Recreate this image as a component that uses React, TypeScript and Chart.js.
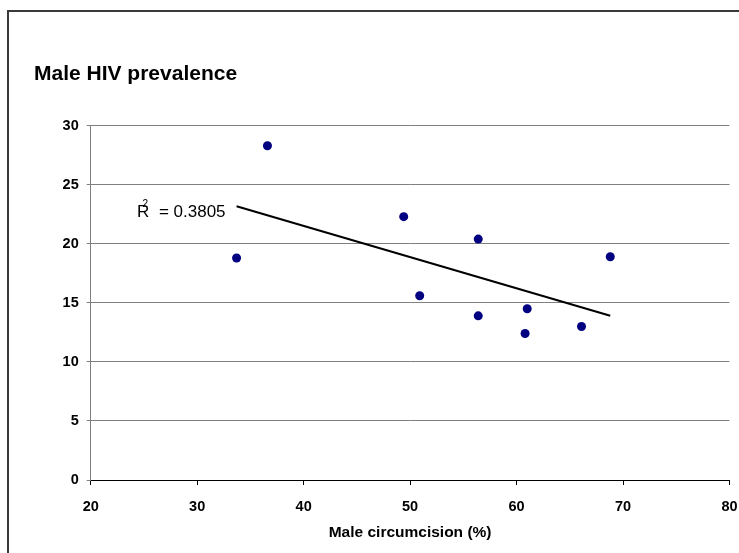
import React, { useEffect, useRef } from "react";
import { Chart, registerables } from "chart.js";

Chart.register(...registerables);

// Data
const circumcision = [36.6, 33.7, 49.4, 56.4, 68.8, 50.9, 56.4, 61.0, 60.8, 66.1];
const hivPrevalence = [28.3, 18.8, 22.3, 20.4, 18.9, 15.6, 13.9, 14.5, 12.4, 13.0];
const xTickValues = [20, 30, 40, 50, 60, 70, 80];
const yTickValues = [0, 5, 10, 15, 20, 25, 30];
const chartTitle = "Male HIV prevalence";
const xAxisTitle = "Male circumcision (%)";
const rSquaredText = "0.3805";

const FONT = "'Liberation Sans', Arial, Helvetica, sans-serif";

function linearFit(xs: number[], ys: number[]) {
  const n = xs.length;
  const mx = xs.reduce((a, b) => a + b, 0) / n;
  const my = ys.reduce((a, b) => a + b, 0) / n;
  let sxy = 0;
  let sxx = 0;
  for (let i = 0; i < n; i++) {
    sxy += (xs[i] - mx) * (ys[i] - my);
    sxx += (xs[i] - mx) * (xs[i] - mx);
  }
  const slope = sxy / sxx;
  const intercept = my - slope * mx;
  return { slope, intercept };
}

export default function App() {
  const ref = useRef<HTMLCanvasElement | null>(null);

  useEffect(() => {
    if (!ref.current) return;
    const fit = linearFit(circumcision, hivPrevalence);
    const xMin = Math.min(...circumcision);
    const xMax = Math.max(...circumcision);
    const trend = [
      { x: xMin, y: fit.slope * xMin + fit.intercept },
      { x: xMax, y: fit.slope * xMax + fit.intercept },
    ];
    const points = circumcision.map((x, i) => ({ x, y: hivPrevalence[i] }));

    const decor = {
      id: "decor",
      beforeDraw(chart: any) {
        const ctx = chart.ctx;
        ctx.save();
        ctx.fillStyle = "#ffffff";
        ctx.fillRect(0, 0, chart.width, chart.height);
        ctx.strokeStyle = "#3a3a3a";
        ctx.lineWidth = 2;
        ctx.beginPath();
        ctx.moveTo(8, chart.height + 5);
        ctx.lineTo(8, 11);
        ctx.lineTo(chart.width + 5, 11);
        ctx.stroke();
        ctx.restore();
      },
      afterDraw(chart: any) {
        const ctx = chart.ctx;
        ctx.save();
        ctx.fillStyle = "#000";
        ctx.textBaseline = "alphabetic";
        ctx.textAlign = "left";
        ctx.font = `bold 21px ${FONT}`;
        ctx.fillText(chartTitle, 34, 80);

        // R² label, anchored to the trendline start
        const xs = chart.scales.x;
        const ys = chart.scales.y;
        const sx = xs.getPixelForValue(trend[0].x);
        const sy = ys.getPixelForValue(trend[0].y);
        const right = sx - 10;
        const base = sy + 10.5;
        ctx.font = `17px ${FONT}`;
        const restW = ctx.measureText("= " + rSquaredText).width;
        const restX = right - restW - 1;
        const rX = restX - 22;
        ctx.fillText("R", rX, base);
        ctx.fillText("= " + rSquaredText, restX, base);
        ctx.font = `10px ${FONT}`;
        ctx.fillText("2", rX + 5.5, base - 10);
        ctx.restore();
      },
    };

    const chart = new Chart(ref.current, {
      type: "scatter",
      data: {
        datasets: [
          {
            type: "line",
            label: "Trend",
            data: trend,
            borderColor: "#000",
            borderWidth: 2,
            pointRadius: 0,
            fill: false,
          } as any,
          {
            label: "Countries",
            data: points,
            backgroundColor: "#000080",
            borderColor: "#000080",
            borderWidth: 0,
            pointRadius: 4.5,
          },
        ],
      },
      options: {
        animation: false,
        responsive: false,
        maintainAspectRatio: false,
        layout: { padding: { left: 0, right: 9.5, top: 125.7, bottom: 0 } },
        plugins: {
          legend: { display: false },
          tooltip: { enabled: false },
          title: { display: false },
        },
        scales: {
          x: {
            type: "linear",
            min: 20,
            max: 80,
            afterBuildTicks: (s: any) => {
              s.ticks = xTickValues.map((v) => ({ value: v }));
            },
            afterFit: (s: any) => {
              s.height = 73;
              s.paddingLeft = 0;
              s.paddingRight = 0;
            },
            ticks: {
              color: "#000",
              padding: 13,
              font: { family: FONT, size: 14.5, weight: "bold" },
            },
            grid: {
              drawOnChartArea: false,
              drawTicks: true,
              tickLength: 5,
              tickColor: "#000",
            },
            border: { color: "#000", width: 1 },
            title: {
              display: true,
              text: xAxisTitle,
              color: "#000",
              font: { family: FONT, size: 15.5, weight: "bold" },
              padding: { top: 0, bottom: 11 },
            },
          },
          y: {
            type: "linear",
            min: 0,
            max: 30,
            afterBuildTicks: (s: any) => {
              s.ticks = yTickValues.map((v) => ({ value: v }));
            },
            afterFit: (s: any) => {
              s.width = 90.7;
              s.paddingTop = 0;
              s.paddingBottom = 0;
            },
            ticks: {
              color: "#000",
              padding: 8,
              font: { family: FONT, size: 14.5, weight: "bold" },
            },
            grid: {
              color: "#808080",
              lineWidth: 1,
              drawTicks: true,
              tickLength: 4,
              tickColor: "#808080",
            },
            border: { color: "#808080", width: 1 },
          },
        },
      },
      plugins: [decor],
    } as any);

    return () => chart.destroy();
  }, []);

  return (
    <div style={{ position: "absolute", left: 0, top: 0, width: 739, height: 553 }}>
      <canvas ref={ref} width={739} height={553} style={{ display: "block" }} />
    </div>
  );
}
